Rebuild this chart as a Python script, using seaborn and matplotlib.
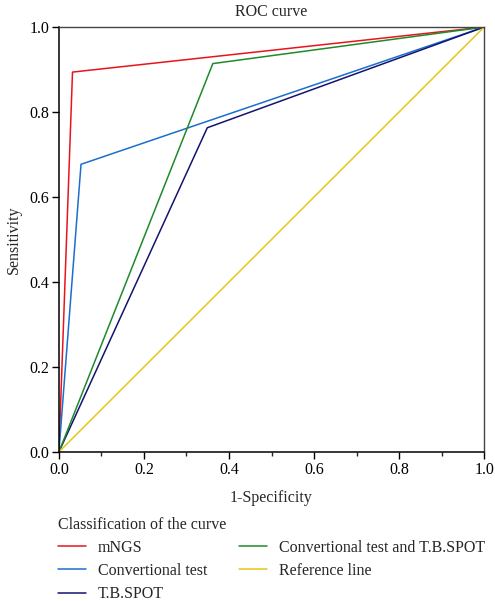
import pandas as pd
import matplotlib.pyplot as plt
from matplotlib.ticker import MultipleLocator
import seaborn as sns

curvas = ['mNGS', 'Convertional test', 'T.B.SPOT',
          'Convertional test and T.B.SPOT', 'Reference line']
cores = ['#e8141c', '#1a6fce', '#14146e', '#1e8a2a', '#e6c619']

# pontos de cada curva (1-especificidade, sensibilidade)
fpr_mngs = [0.0, 0.032, 1.0]
tpr_mngs = [0.0, 0.894, 1.0]
fpr_conv = [0.0, 0.052, 1.0]
tpr_conv = [0.0, 0.677, 1.0]
fpr_tbspot = [0.0, 0.349, 1.0]
tpr_tbspot = [0.0, 0.763, 1.0]
fpr_comb = [0.0, 0.362, 1.0]
tpr_comb = [0.0, 0.914, 1.0]
fpr_ref = [0.0, 1.0]
tpr_ref = [0.0, 1.0]

series = [(fpr_mngs, tpr_mngs), (fpr_conv, tpr_conv), (fpr_tbspot, tpr_tbspot),
          (fpr_comb, tpr_comb), (fpr_ref, tpr_ref)]

linhas = []
for nome, (xs, ys) in zip(curvas, series):
    for i, (x, y) in enumerate(zip(xs, ys)):
        linhas.append({'curva': nome, 'ordem': i, 'fpr': x, 'tpr': y})
df = pd.DataFrame(linhas)

sns.set_style('ticks')
plt.rcParams['font.family'] = ['Liberation Serif', 'DejaVu Serif']
tam = 11.5

fig = plt.figure(figsize=(4.95, 6.01), dpi=100)
ax = fig.add_axes([0.119, 0.248, 0.859, 0.707])

sns.lineplot(data=df, x='fpr', y='tpr', hue='curva', hue_order=curvas,
             palette=cores, sort=False, estimator=None, units='curva',
             linewidth=1.1, ax=ax)

ax.set_xlim(0, 1)
ax.set_ylim(0, 1)
ax.xaxis.set_major_locator(MultipleLocator(0.2))
ax.xaxis.set_minor_locator(MultipleLocator(0.1))
ax.yaxis.set_major_locator(MultipleLocator(0.2))
ax.xaxis.set_major_formatter(plt.FormatStrFormatter('%.1f'))
ax.yaxis.set_major_formatter(plt.FormatStrFormatter('%.1f'))
ax.tick_params(axis='both', which='major', length=5, width=1, labelsize=tam, colors='black', pad=2)
ax.tick_params(axis='x', which='minor', length=3, width=1)
for lado in ['left', 'bottom']:
    ax.spines[lado].set_linewidth(1.1)
    ax.spines[lado].set_color('black')
for lado in ['top', 'right']:
    ax.spines[lado].set_linewidth(1.0)
    ax.spines[lado].set_color('#444444')

ax.set_xlabel('1-Specificity', fontsize=tam, labelpad=9)
ax.set_ylabel('Sensitivity', fontsize=tam, labelpad=5)
ax.set_title('ROC curve', fontsize=tam, pad=8)

handles, labels = ax.get_legend_handles_labels()
ax.legend(handles, labels, title='Classification of the curve', ncol=2,
          loc='upper left', bbox_to_anchor=(-0.002, -0.152), frameon=False,
          fontsize=tam, title_fontsize=tam, handlelength=1.75,
          handletextpad=0.75, columnspacing=2.0, labelspacing=0.45,
          alignment='left', borderaxespad=0, borderpad=0)

plt.savefig('out.png', dpi=100)
plt.close()
